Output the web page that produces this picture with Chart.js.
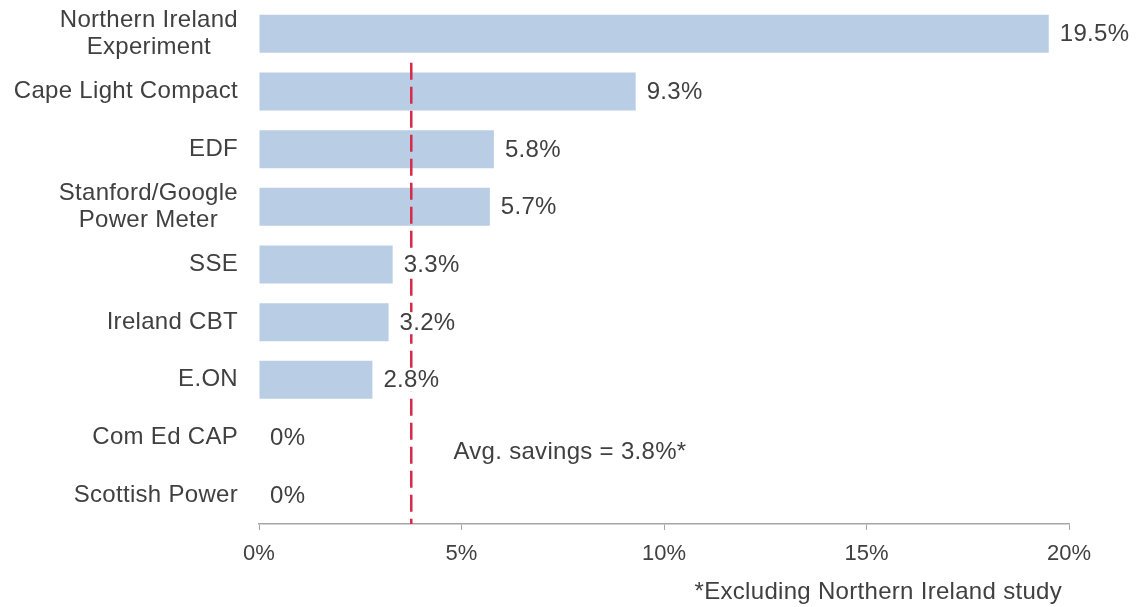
<!DOCTYPE html>
<html>
<head>
<meta charset="utf-8">
<script src="https://cdn.jsdelivr.net/npm/chart.js@4"></script>
<style>
html,body{margin:0;padding:0;background:#fff;}
#wrap{width:1139px;height:607px;position:relative;}
</style>
</head>
<body>
<div id="wrap"><canvas id="c" width="1139" height="607"></canvas></div>
<script>
const categories = [
  ["Northern Ireland", "Experiment"],
  ["Cape Light Compact"],
  ["EDF"],
  ["Stanford/Google", "Power Meter"],
  ["SSE"],
  ["Ireland CBT"],
  ["E.ON"],
  ["Com Ed CAP"],
  ["Scottish Power"]
];
const savings = [19.5, 9.3, 5.8, 5.7, 3.3, 3.2, 2.8, 0, 0];
const valueLabels = ["19.5%", "9.3%", "5.8%", "5.7%", "3.3%", "3.2%", "2.8%", "0%", "0%"];
const xTicks = [0, 5, 10, 15, 20];
const avgSavings = 3.76;
const avgText = "Avg. savings = 3.8%*";
const avgTextPos = [4.8, 7.26];
const footnote = "*Excluding Northern Ireland study";

const FAMILY = '"Liberation Sans", Arial, sans-serif';
const FONT = '24px ' + FAMILY;
const TEXT = '#404040';

const overlay = {
  id: 'overlay',
  afterDatasetsDraw(chart) {
    const ctx = chart.ctx;
    const xs = chart.scales.x, ys = chart.scales.y;
    const ca = chart.chartArea;
    ctx.save();
    // average dashed line
    const ax = xs.getPixelForValue(avgSavings);
    ctx.strokeStyle = '#D62A4A';
    ctx.lineWidth = 2.5;
    ctx.setLineDash([17, 7]);
    ctx.beginPath();
    ctx.moveTo(ax, ys.getPixelForValue(0.5));
    ctx.lineTo(ax, ca.bottom);
    ctx.stroke();
    ctx.setLineDash([]);
    ctx.font = FONT;
    ctx.letterSpacing = '0.3px';
    ctx.textBaseline = 'middle';
    ctx.textAlign = 'left';
    // value labels
    const meta = chart.getDatasetMeta(0);
    meta.data.forEach((bar, i) => {
      const x = xs.getPixelForValue(savings[i]) + 11;
      const y = bar.y + 1;
      const w = ctx.measureText(valueLabels[i]).width;
      ctx.fillStyle = '#fff';
      ctx.fillRect(x - 2, y - 11, w + 4, 22);
      ctx.fillStyle = TEXT;
      ctx.fillText(valueLabels[i], x, y);
    });
    // category labels (centered lines, right-aligned block)
    const rightEdge = ca.left - 21;
    categories.forEach((lines, i) => {
      const cy = ys.getPixelForValue(i);
      const widths = lines.map(l => ctx.measureText(l).width);
      const bw = Math.max(...widths);
      const lh = 27;
      const y0 = cy - (lines.length - 1) * lh / 2;
      ctx.textAlign = 'center';
      lines.forEach((l, k) => {
        ctx.fillText(l, rightEdge - bw / 2, y0 + k * lh);
      });
    });
    // average annotation
    ctx.textAlign = 'left';
    ctx.fillText(avgText, xs.getPixelForValue(avgTextPos[0]), ys.getPixelForValue(avgTextPos[1]));
    // footnote
    ctx.textAlign = 'right';
    ctx.fillText(footnote, ca.right - 7, 592);
    ctx.restore();
  }
};

new Chart(document.getElementById('c'), {
  type: 'bar',
  data: {
    labels: categories.map(c => c.join(' ')),
    datasets: [{
      data: savings,
      backgroundColor: '#B9CDE5',
      borderWidth: 0,
      barPercentage: 0.66,
      categoryPercentage: 1.0
    }]
  },
  options: {
    indexAxis: 'y',
    responsive: false,
    animation: false,
    layout: { padding: { left: 251, right: 70, top: 5, bottom: 0 } },
    plugins: { legend: { display: false }, tooltip: { enabled: false } },
    scales: {
      x: {
        min: 0, max: 20,
        afterBuildTicks(s) { s.ticks = xTicks.map(v => ({ value: v })); },
        afterFit(s) { s.height = 83; },
        grid: { drawOnChartArea: false, drawTicks: true, tickLength: 6, color: '#A6A6A6' },
        border: { display: true, color: '#A6A6A6', width: 1.5 },
        ticks: {
          color: TEXT,
          font: { family: FAMILY, size: 22 },
          padding: 11,
          maxRotation: 0,
          callback: v => v + '%'
        }
      },
      y: {
        grid: { display: false },
        border: { display: false },
        ticks: { display: false }
      }
    }
  },
  plugins: [overlay]
});
</script>
</body>
</html>
